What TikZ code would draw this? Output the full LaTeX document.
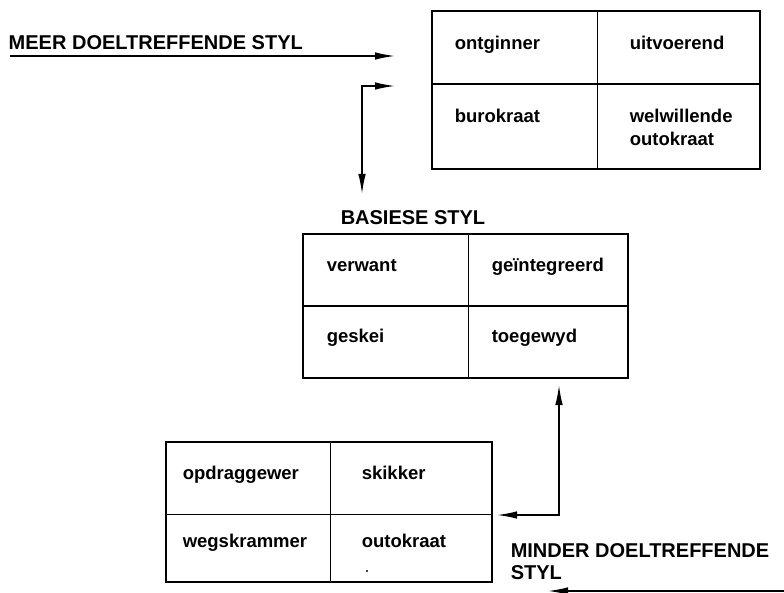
\documentclass[tikz,border=0pt]{standalone}
\usepackage{fontspec}
\setmainfont{Liberation Sans}
\usetikzlibrary{arrows.meta}
\begin{document}
\begin{tikzpicture}[x=1pt,y=-1pt,
  line width=1.5pt,
  grid/.style={draw=black,rectangle,inner sep=0pt,line width=1.5pt},
  cell/.style={anchor=base west,inner sep=0pt,font=\fontsize{18.5}{21}\selectfont\bfseries},
  heading/.style={anchor=base west,inner sep=0pt,font=\fontsize{20}{22}\selectfont\bfseries},
  flow/.style={line width=1.5pt,{Latex[length=20pt,width=7.5pt]}-{Latex[length=20pt,width=7.5pt]}},
  oneway/.style={line width=1.5pt,-{Latex[length=20pt,width=7.5pt]}}]
\useasboundingbox (0,0) rectangle (784,593);

% upper grid
\node[grid,minimum width=328pt,minimum height=158pt] (top) at (596,90) {};
\draw (top.north west) ++(166,0) -- ++(0,158);
\draw (top.north west) ++(0,74) -- ++(328,0);
\node[cell] (t1) at (454,50) {ontginner};
\node[cell] (t2) at (629,50) {uitvoerend};
\node[cell] (t3) at (454,123) {burokraat};
\node[cell] (t4) at (629,123) {welwillende};
\node[cell] (t4b) at (629,146) {outokraat};

% middle grid
\node[grid,minimum width=325pt,minimum height=144pt] (mid) at (465.5,306) {};
\draw (mid.north west) ++(166,0) -- ++(0,144);
\draw (mid.north west) ++(0,73) -- ++(325,0);
\node[heading] (basies) at (340,225) {BASIESE STYL};
\node[cell] (m1) at (326,272) {verwant};
\node[cell] (m2) at (491,272) {geïntegreerd};
\node[cell] (m3) at (326,342) {geskei};
\node[cell] (m4) at (491,342) {toegewyd};

% lower grid
\node[grid,minimum width=326pt,minimum height=140pt] (low) at (329,512) {};
\draw (low.north west) ++(165,0) -- ++(0,140);
\draw (low.north west) ++(0,73) -- ++(326,0);
\node[cell] (b1) at (182,479) {opdraggewer};
\node[cell] (b2) at (361,479) {skikker};
\node[cell] (b3) at (182,547) {wegskrammer};
\node[cell] (b4) at (361,547) {outokraat};
\fill (367,571) circle (1.2pt);

% labels
\node[heading] (meer) at (8,50) {MEER DOELTREFFENDE STYL};
\node[heading] (minder) at (510,557) {MINDER DOELTREFFENDE};
\node[heading] (minderb) at (510,579) {STYL};

% connectors
\coordinate (meerA) at (10,56);
\coordinate (meerB) at (395,56);
\draw[oneway] (meerA) -- (meerB);

\coordinate (upTip) at (395,86);
\coordinate (upCorner) at (362,86);
\coordinate (downTip) at (362,194);
\draw[flow] (upTip) -- (upCorner) -- (downTip);

\coordinate (riseTip) at (559,385);
\coordinate (riseCorner) at (559,515);
\coordinate (leftTip) at (497,515);
\draw[flow] (riseTip) -- (riseCorner) -- (leftTip);

\coordinate (minderA) at (784,591);
\coordinate (minderB) at (548,591);
\begin{scope}
\clip (0,0) rectangle (784,593);
\draw[oneway] (minderA) -- (minderB);
\end{scope}
\end{tikzpicture}
\end{document}
